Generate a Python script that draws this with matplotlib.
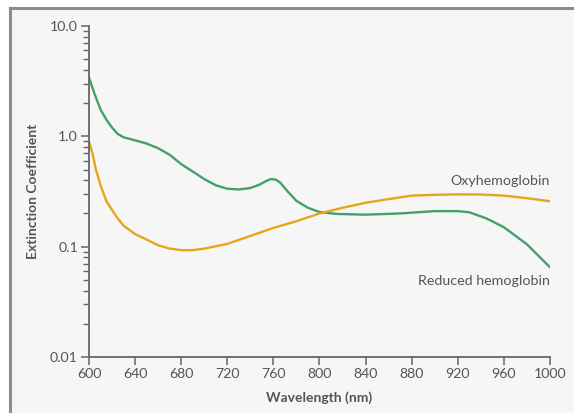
import matplotlib
matplotlib.use("Agg")
import matplotlib.pyplot as plt
from matplotlib.lines import Line2D
from matplotlib.patches import Rectangle
from matplotlib.ticker import FixedLocator, FixedFormatter, LogLocator, NullFormatter

plt.rcParams['font.family'] = ['Lato', 'DejaVu Sans']

# Absorption spectra (extinction coefficient vs wavelength)
reduced_wl = [600, 605, 610, 615, 620, 625, 630, 640, 650, 660, 670, 680, 690,
              700, 710, 720, 730, 740, 748, 754, 758, 762, 766, 772, 780, 790,
              800, 815, 840, 870, 900, 920, 930, 945, 960, 980, 1000]
reduced_val = [3.4, 2.4, 1.75, 1.42, 1.2, 1.05, 0.98, 0.92, 0.86, 0.78, 0.68,
               0.56, 0.48, 0.41, 0.36, 0.335, 0.33, 0.34, 0.365, 0.395, 0.41,
               0.405, 0.38, 0.32, 0.26, 0.225, 0.206, 0.198, 0.195, 0.2, 0.21,
               0.21, 0.205, 0.18, 0.15, 0.105, 0.065]

oxy_wl = [600, 603, 606, 610, 615, 620, 625, 630, 640, 650, 660, 670, 680, 690,
          700, 720, 740, 760, 780, 800, 820, 840, 860, 880, 900, 920, 940, 960,
          980, 1000]
oxy_val = [0.9, 0.7, 0.5, 0.36, 0.26, 0.215, 0.18, 0.155, 0.13, 0.116, 0.103,
           0.096, 0.093, 0.093, 0.096, 0.106, 0.125, 0.148, 0.17, 0.2, 0.225,
           0.25, 0.27, 0.29, 0.295, 0.298, 0.297, 0.29, 0.275, 0.258]

x_ticks = [600, 640, 680, 720, 760, 800, 840, 880, 920, 960, 1000]
y_ticks = [0.01, 0.1, 1.0, 10.0]
y_tick_labels = ['0.01', '0.1', '1.0', '10.0']

GREEN = '#44a06a'
ORANGE = '#e6a51c'
AXIS = '#666666'
TEXT = '#555555'
PANEL = '#f6f6f6'

W, H = 574, 413
fig = plt.figure(figsize=(W / 100, H / 100), dpi=100)
fig.patch.set_facecolor('white')

# panel background and frame
fig.patches.append(Rectangle((10 / W, 0), 1, 1 - 8 / H, transform=fig.transFigure,
                             facecolor=PANEL, edgecolor='none', zorder=-10))
fig.lines.append(Line2D([10 / W, 10 / W], [0, 1 - 8 / H], transform=fig.transFigure,
                        color='#8c8c8c', lw=2.2, zorder=-5))
fig.lines.append(Line2D([10 / W, 1], [1 - 8 / H, 1 - 8 / H], transform=fig.transFigure,
                        color='#8c8c8c', lw=2.2, zorder=-5))

ax = fig.add_axes([89 / W, 1 - 357 / H, (550 - 89) / W, (357 - 26) / H])
ax.set_facecolor('none')
ax.set_zorder(1)

ax.plot(reduced_wl, reduced_val, color=GREEN, lw=1.7, solid_capstyle='round',
        solid_joinstyle='round')
ax.plot(oxy_wl, oxy_val, color=ORANGE, lw=1.7, solid_capstyle='round',
        solid_joinstyle='round')

ax.set_yscale('log')
ax.set_xlim(600, 1000)
ax.set_ylim(0.01, 10.0)

ax.xaxis.set_major_locator(FixedLocator(x_ticks))
ax.yaxis.set_major_locator(FixedLocator(y_ticks))
ax.yaxis.set_major_formatter(FixedFormatter(y_tick_labels))
ax.yaxis.set_minor_locator(LogLocator(base=10, subs=range(2, 10)))
ax.yaxis.set_minor_formatter(NullFormatter())

for s in ['top', 'right']:
    ax.spines[s].set_visible(False)
for s in ['left', 'bottom']:
    ax.spines[s].set_color(AXIS)
    ax.spines[s].set_linewidth(1.3)

ax.tick_params(axis='both', which='major', direction='out', length=6, width=1.1,
               color=AXIS, labelcolor=TEXT, labelsize=10.2, pad=2)
ax.tick_params(axis='y', which='minor', direction='out', length=4, width=1.0,
               color=AXIS)

ax.set_xlabel('Wavelength (nm)', fontsize=10, fontweight='bold', color=TEXT, labelpad=8)
ax.set_ylabel('Extinction Coefficient', fontsize=10, fontweight='bold', color=TEXT, labelpad=8)

ax.text(1000, 0.39, 'Oxyhemoglobin', ha='right', va='center', fontsize=10.3, color=TEXT)
ax.text(1000, 0.049, 'Reduced hemoglobin', ha='right', va='center', fontsize=10.3, color=TEXT)

fig.savefig('out.png', dpi=100)
